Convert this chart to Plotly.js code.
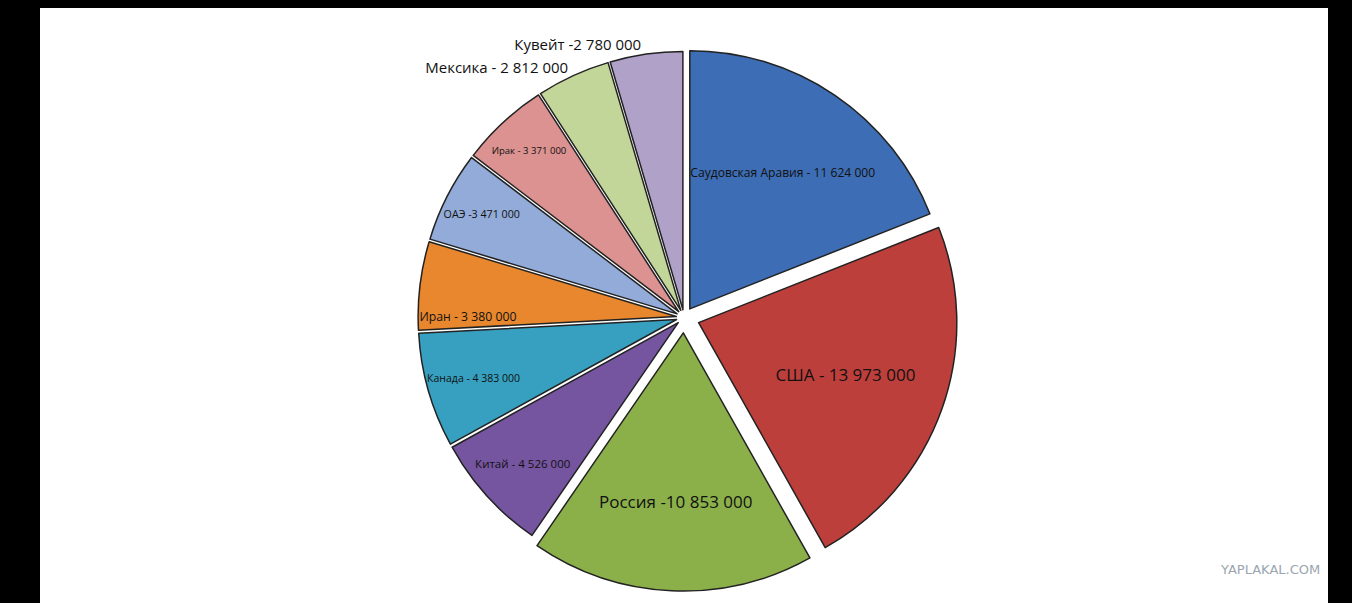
<!DOCTYPE html>
<html>
<head>
<meta charset="utf-8">
<script src="https://cdn.plot.ly/plotly-3.0.1.min.js"></script>
<style>
  html, body { margin: 0; padding: 0; background: #000; }
  #plot { position: absolute; left: 40px; top: 8px; width: 1288px; height: 595px; background: #fff; }
</style>
</head>
<body>
<div id="plot"></div>
<script>
// oil production by country, barrels per day
const countries = ["Саудовская Аравия", "США", "Россия", "Китай", "Канада",
  "Иран", "ОАЭ", "Ирак", "Мексика", "Кувейт"];
const values = [11624000, 13973000, 10853000, 4526000, 4383000,
  3380000, 3471000, 3371000, 2812000, 2780000];
const labels = ["Саудовская Аравия - 11 624 000", "США - 13 973 000",
  "Россия -10 853 000", "Китай - 4 526 000", "Канада - 4 383 000",
  "Иран - 3 380 000", "ОАЭ -3 471 000", "Ирак - 3 371 000",
  "Мексика - 2 812 000", "Кувейт -2 780 000"];
const colors = ["#3d6db4", "#bd3f3c", "#8bb04a", "#7655a0", "#37a0c0",
  "#e8872d", "#92abd9", "#db9290", "#c2d69a", "#b0a1c9"];

const trace = {
  type: "pie",
  labels: countries,
  values: values,
  text: labels,
  textinfo: "text",
  hoverinfo: "label+value",
  sort: false,
  direction: "clockwise",
  rotation: 0,
  pull: [0.04, 0.06, 0.06, 0.03, 0.03, 0.03, 0.03, 0.03, 0.03, 0.03],
  textposition: ["inside", "inside", "inside", "inside", "inside",
    "inside", "inside", "inside", "outside", "outside"],
  insidetextorientation: "horizontal",
  textfont: { family: "Open Sans, sans-serif", size: 17, color: "#111" },
  outsidetextfont: { family: "Open Sans, sans-serif", size: 15, color: "#111" },
  marker: { colors: colors, line: { color: "#222", width: 1.5 } },
  domain: { x: [0.1, 0.9], y: [0.02, 0.94] }
};

Plotly.newPlot("plot", [trace], {
  width: 1288,
  height: 595,
  margin: { l: 0, r: 0, t: 0, b: 0 },
  paper_bgcolor: "#fff",
  showlegend: false,
  annotations: [{
    text: "YAPLAKAL.COM", x: 1288 - 8, y: 30, xref: "paper", yref: "paper",
    showarrow: false, xanchor: "right", yanchor: "bottom",
    font: { family: "DejaVu Sans, sans-serif", size: 13, color: "#9aa5b0" }
  }].map(a => Object.assign(a, { x: 0.995, y: 0.04 }))
}, { displayModeBar: false });
</script>
</body>
</html>
